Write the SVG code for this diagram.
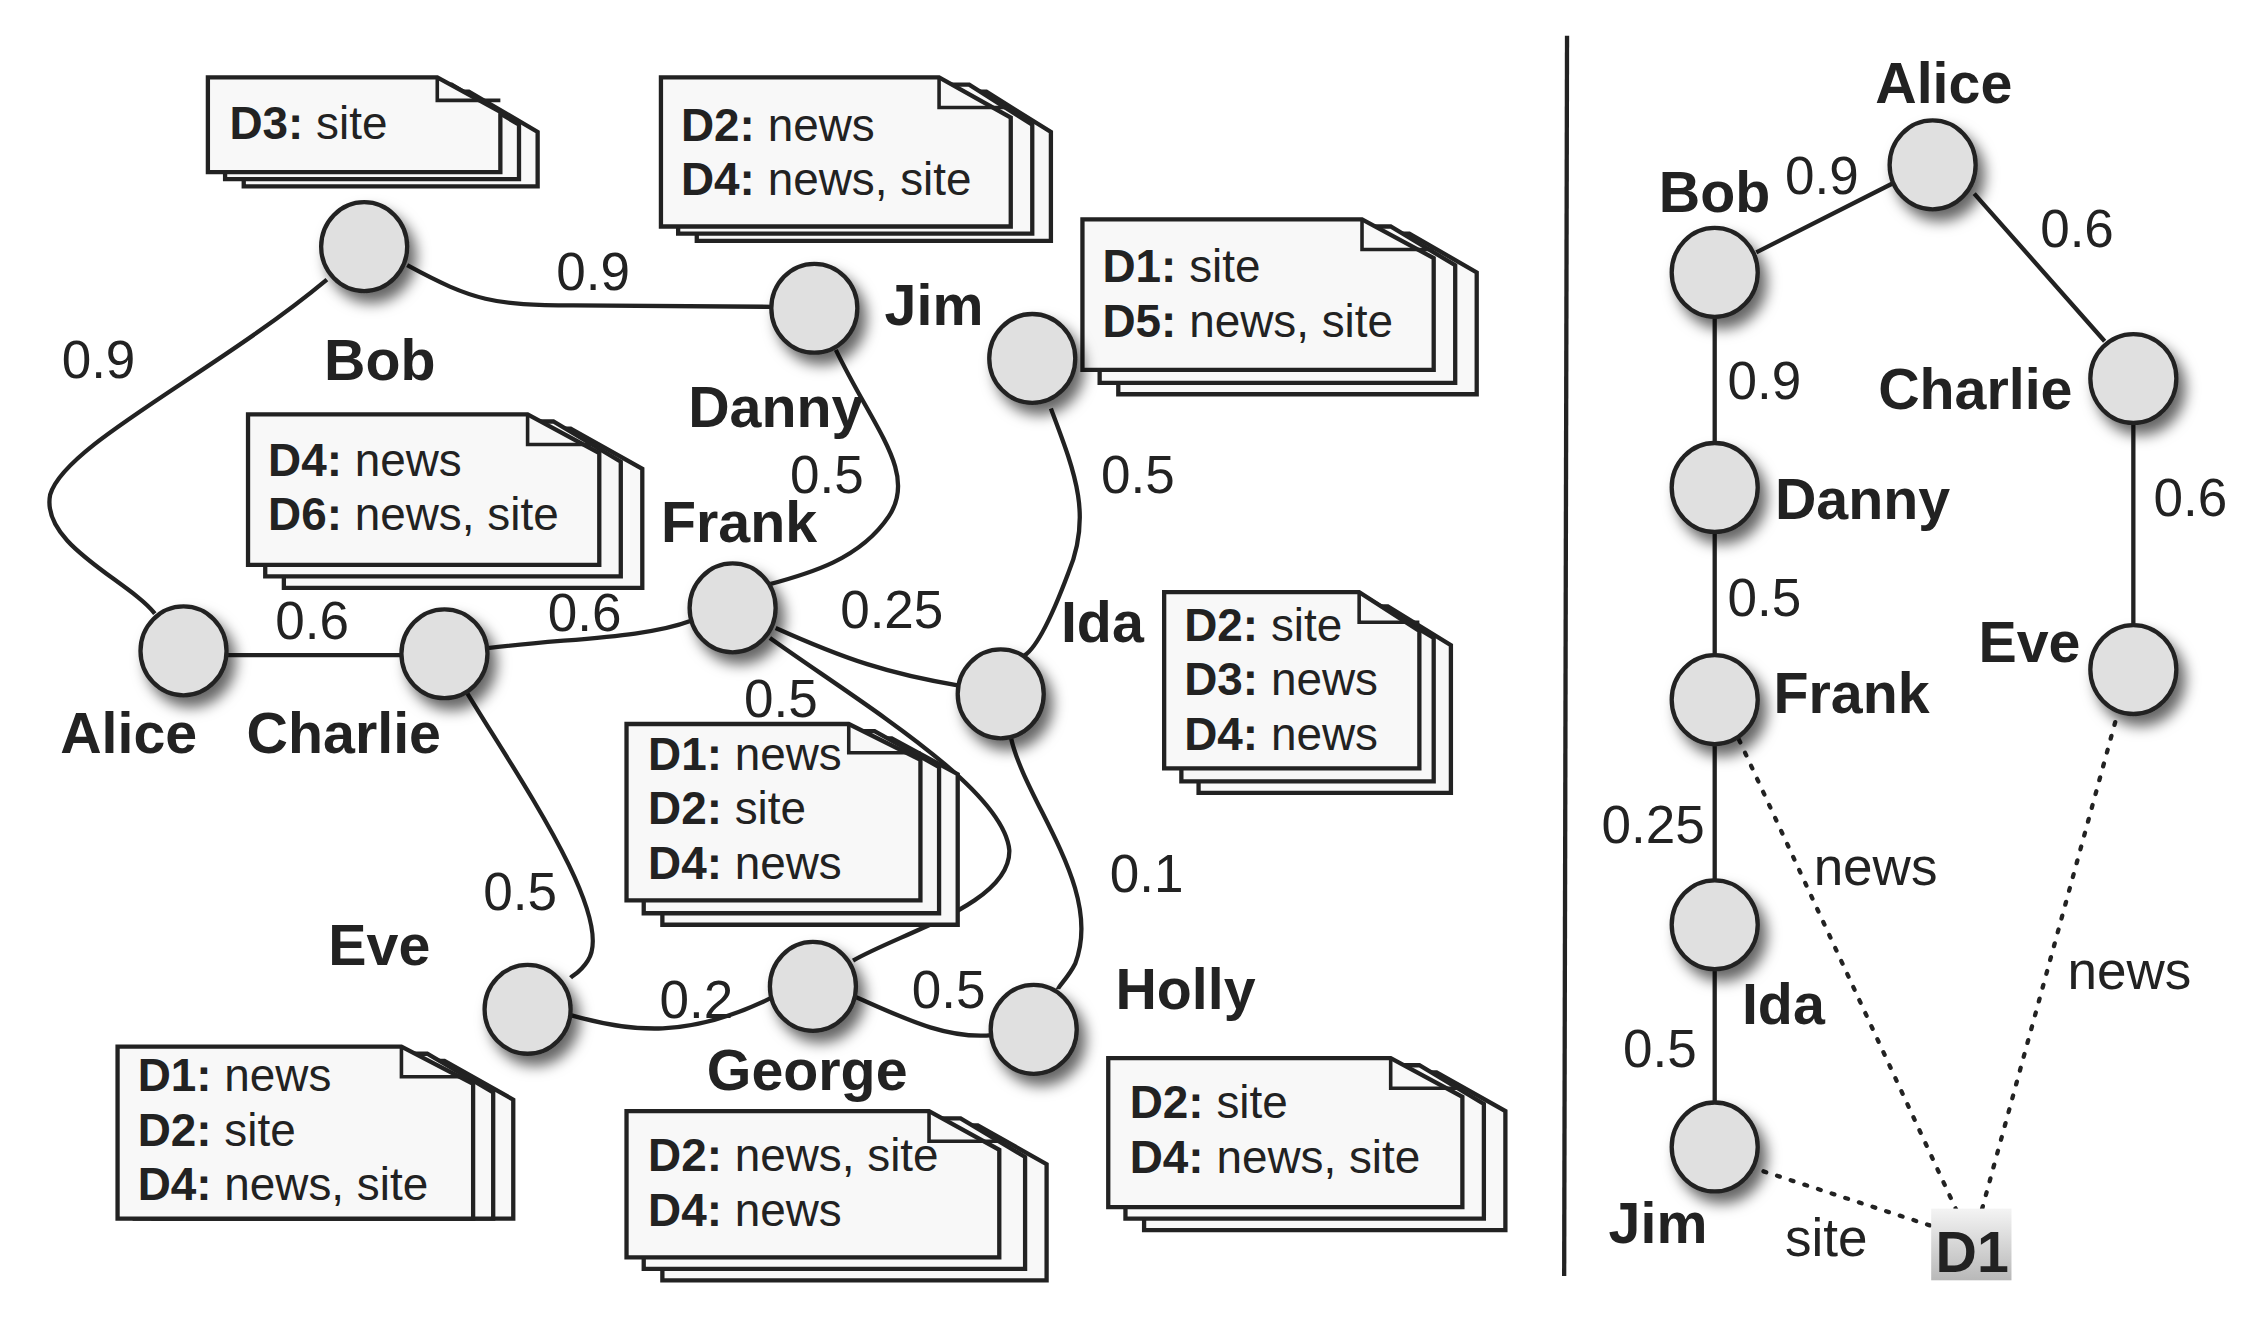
<svg xmlns="http://www.w3.org/2000/svg" width="2248" height="1326" viewBox="0 0 2248 1326">
<style>
.n{fill:#e0e0e0;stroke:#222;stroke-width:3;filter:url(#sh)}
.e{fill:none;stroke:#222;stroke-width:3}
.d{fill:none;stroke:#222;stroke-width:3;stroke-dasharray:2 8;stroke-linecap:round}
.p{fill:#f8f8f8;stroke:#222;stroke-width:3}
.f{fill:none;stroke:#222;stroke-width:2.5}
.lb{font-family:"Liberation Sans",Arial,sans-serif;font-weight:bold;font-size:40px;fill:#222}
.nm{font-family:"Liberation Sans",Arial,sans-serif;font-size:37px;fill:#222}
.dt{font-family:"Liberation Sans",Arial,sans-serif;font-size:32px;fill:#222}
.dt tspan.b{font-weight:bold}
</style>
<defs>
<filter id="sh" x="-50%" y="-50%" width="220%" height="220%"><feDropShadow dx="5" dy="7" stdDeviation="5" flood-color="#000" flood-opacity="0.6"/></filter>
<linearGradient id="g1" x1="0" y1="0" x2="0" y2="1"><stop offset="0" stop-color="#f4f4f4"/><stop offset="1" stop-color="#b8b8b8"/></linearGradient>
</defs>
<rect width="2248" height="1326" fill="#fff"/>
<g transform="scale(1.4337)">
<g id="connectors">
<path class="e" d="M228,195 C150,260 45,310 35,345 C28,380 90,405 108,428"/>
<path class="e" d="M284,185 C330,210 345,213 400,213 L539,214"/>
<path class="e" d="M583,244 C610,300 640,330 620,360 C600,390 565,400 535,408"/>
<path class="e" d="M733,285 C750,330 762,360 745,400 C730,440 720,455 713,458"/>
<path class="e" d="M158,457 L280,457"/>
<path class="e" d="M340,452 C400,445 450,445 482,433"/>
<path class="e" d="M541,438 C590,460 620,470 668,478"/>
<path class="e" d="M537,445 C600,490 700,550 704,593 C705,630 630,650 595,670"/>
<path class="e" d="M705,514 C715,560 770,620 750,672 C745,682 738,688 738,690"/>
<path class="e" d="M325,482 C360,540 430,640 410,670 C405,678 400,680 398,682"/>
<path class="e" d="M398,708 C440,720 480,725 540,695"/>
<path class="e" d="M596,695 C630,710 660,725 692,722"/>
<line class="e" x1="1093" y1="25" x2="1091" y2="890"/>
<path class="e" d="M1225,176 L1320,128 M1377,135 L1468,238 M1196,221 V309 M1196,371 V457 M1196,519 V614 M1196,676 V769 M1488,295 V436"/>
<path class="d" d="M1213,516 L1365,845 M1478,494 L1382,845 M1230,817 L1350,856"/>
</g>
<g id="docs">
<g><path class="p" d="M170,64 H327 L375,92 V130 H170 Z"/><path class="p" d="M157,59 H315 L362,87 V125 H157 Z"/><path class="p" d="M145,54 H305 L349,78 V120 H145 Z"/><path class="f" d="M305,54 V70 H349"/><text class="dt" x="160" y="97"><tspan class="b">D3:</tspan> site</text></g>
<g><path class="p" d="M486,64 H688 L733,92 V168 H486 Z"/><path class="p" d="M473,59 H676 L720,87 V163 H473 Z"/><path class="p" d="M461,54 H655 L705,82 V158 H461 Z"/><path class="f" d="M655,54 V75 H705"/><text class="dt" x="475" y="98"><tspan class="b">D2:</tspan> news</text><text class="dt" x="475" y="136"><tspan class="b">D4:</tspan> news, site</text></g>
<g><path class="p" d="M780,163 H983 L1030,190 V275 H780 Z"/><path class="p" d="M767,158 H970 L1015,185 V267 H767 Z"/><path class="p" d="M755,153 H950 L1000,180 V258 H755 Z"/><path class="f" d="M950,153 V174 H1000"/><text class="dt" x="769" y="197"><tspan class="b">D1:</tspan> site</text><text class="dt" x="769" y="235"><tspan class="b">D5:</tspan> news, site</text></g>
<g><path class="p" d="M198,299 H398 L448,327 V410 H198 Z"/><path class="p" d="M185,294 H386 L433,322 V402 H185 Z"/><path class="p" d="M173,289 H368 L418,316 V394 H173 Z"/><path class="f" d="M368,289 V310 H418"/><text class="dt" x="187" y="332"><tspan class="b">D4:</tspan> news</text><text class="dt" x="187" y="370"><tspan class="b">D6:</tspan> news, site</text></g>
<g><path class="p" d="M836,423 H968 L1012,450 V553 H836 Z"/><path class="p" d="M824,418 H955 L1000,445 V545 H824 Z"/><path class="p" d="M812,413 H948 L990,440 V536 H812 Z"/><path class="f" d="M948,413 V434 H990"/><text class="dt" x="826" y="447"><tspan class="b">D2:</tspan> site</text><text class="dt" x="826" y="485"><tspan class="b">D3:</tspan> news</text><text class="dt" x="826" y="523"><tspan class="b">D4:</tspan> news</text></g>
<g><path class="p" d="M462,515 H622 L668,540 V645 H462 Z"/><path class="p" d="M449,510 H610 L655,535 V637 H449 Z"/><path class="p" d="M437,505 H592 L642,530 V628 H437 Z"/><path class="f" d="M592,505 V525 H642"/><text class="dt" x="452" y="537"><tspan class="b">D1:</tspan> news</text><text class="dt" x="452" y="575"><tspan class="b">D2:</tspan> site</text><text class="dt" x="452" y="613"><tspan class="b">D4:</tspan> news</text></g>
<g><path class="p" d="M107,740 H310 L358,767 V850 H107 Z"/><path class="p" d="M94,735 H298 L344,762 V850 H94 Z"/><path class="p" d="M82,730 H280 L330,756 V850 H82 Z"/><path class="f" d="M280,730 V751 H330"/><text class="dt" x="96" y="761"><tspan class="b">D1:</tspan> news</text><text class="dt" x="96" y="799"><tspan class="b">D2:</tspan> site</text><text class="dt" x="96" y="837"><tspan class="b">D4:</tspan> news, site</text></g>
<g><path class="p" d="M462,785 H682 L730,812 V893 H462 Z"/><path class="p" d="M449,780 H670 L715,807 V885 H449 Z"/><path class="p" d="M437,775 H648 L697,802 V877 H437 Z"/><path class="f" d="M648,775 V796 H697"/><text class="dt" x="452" y="817"><tspan class="b">D2:</tspan> news, site</text><text class="dt" x="452" y="855"><tspan class="b">D4:</tspan> news</text></g>
<g><path class="p" d="M798,748 H1002 L1050,775 V858 H798 Z"/><path class="p" d="M785,743 H990 L1035,770 V850 H785 Z"/><path class="p" d="M773,738 H970 L1020,765 V842 H773 Z"/><path class="f" d="M970,738 V759 H1020"/><text class="dt" x="788" y="780"><tspan class="b">D2:</tspan> site</text><text class="dt" x="788" y="818"><tspan class="b">D4:</tspan> news, site</text></g>
</g>
<g id="n-bob"><ellipse class="n" cx="254" cy="172" rx="30" ry="31"/><text class="lb" x="226" y="265">Bob</text></g>
<g id="n-jim"><ellipse class="n" cx="568" cy="215" rx="30" ry="31"/><text class="lb" x="617" y="227">Jim</text><text class="lb" x="480" y="298">Danny</text></g>
<g id="n-danny"><ellipse class="n" cx="720" cy="250" rx="30" ry="31"/></g>
<g id="n-alice"><ellipse class="n" cx="128" cy="454" rx="30" ry="31"/><text class="lb" x="42" y="525">Alice</text></g>
<g id="n-charlie"><ellipse class="n" cx="310" cy="456" rx="30" ry="31"/><text class="lb" x="172" y="525">Charlie</text></g>
<g id="n-frank"><ellipse class="n" cx="511" cy="424" rx="30" ry="31"/><text class="lb" x="461" y="378">Frank</text></g>
<g id="n-ida"><ellipse class="n" cx="698" cy="484" rx="30" ry="31"/><text class="lb" x="740" y="448">Ida</text></g>
<g id="n-eve"><ellipse class="n" cx="368" cy="704" rx="30" ry="31"/><text class="lb" x="229" y="673">Eve</text></g>
<g id="n-george"><ellipse class="n" cx="567" cy="688" rx="30" ry="31"/><text class="lb" x="493" y="760">George</text></g>
<g id="n-holly"><ellipse class="n" cx="721" cy="718" rx="30" ry="31"/><text class="lb" x="778" y="704">Holly</text></g>
<g id="weights">
<text class="nm" x="43" y="264">0.9</text><text class="nm" x="388" y="202">0.9</text><text class="nm" x="551" y="344">0.5</text><text class="nm" x="768" y="344">0.5</text>
<text class="nm" x="192" y="446">0.6</text><text class="nm" x="382" y="440">0.6</text><text class="nm" x="586" y="438">0.25</text><text class="nm" x="519" y="500">0.5</text>
<text class="nm" x="337" y="635">0.5</text><text class="nm" x="460" y="710">0.2</text><text class="nm" x="636" y="703">0.5</text><text class="nm" x="774" y="622">0.1</text>
</g>
<g id="r-alice"><ellipse class="n" cx="1348" cy="115" rx="30" ry="31"/><text class="lb" x="1308" y="72">Alice</text></g>
<g id="r-bob"><ellipse class="n" cx="1196" cy="190" rx="30" ry="31"/><text class="lb" x="1157" y="148">Bob</text></g>
<g id="r-charlie"><ellipse class="n" cx="1488" cy="264" rx="30" ry="31"/><text class="lb" x="1310" y="285">Charlie</text></g>
<g id="r-danny"><ellipse class="n" cx="1196" cy="340" rx="30" ry="31"/><text class="lb" x="1238" y="362">Danny</text></g>
<g id="r-frank"><ellipse class="n" cx="1196" cy="488" rx="30" ry="31"/><text class="lb" x="1237" y="497">Frank</text></g>
<g id="r-eve"><ellipse class="n" cx="1488" cy="467" rx="30" ry="31"/><text class="lb" x="1380" y="462">Eve</text></g>
<g id="r-ida"><ellipse class="n" cx="1196" cy="645" rx="30" ry="31"/><text class="lb" x="1215" y="714">Ida</text></g>
<g id="r-jim"><ellipse class="n" cx="1196" cy="800" rx="30" ry="31"/><text class="lb" x="1122" y="867">Jim</text></g>
<g id="r-d1"><rect x="1347" y="843" width="56" height="50" fill="url(#g1)"/><text class="lb" x="1350" y="887">D1</text></g>
<g id="r-labels">
<text class="nm" x="1245" y="135">0.9</text><text class="nm" x="1423" y="172">0.6</text><text class="nm" x="1205" y="278">0.9</text><text class="nm" x="1502" y="360">0.6</text>
<text class="nm" x="1205" y="430">0.5</text><text class="nm" x="1117" y="588">0.25</text><text class="nm" x="1132" y="744">0.5</text>
<text class="nm" x="1265" y="617">news</text><text class="nm" x="1442" y="690">news</text><text class="nm" x="1245" y="876">site</text>
</g>
</g>
</svg>
